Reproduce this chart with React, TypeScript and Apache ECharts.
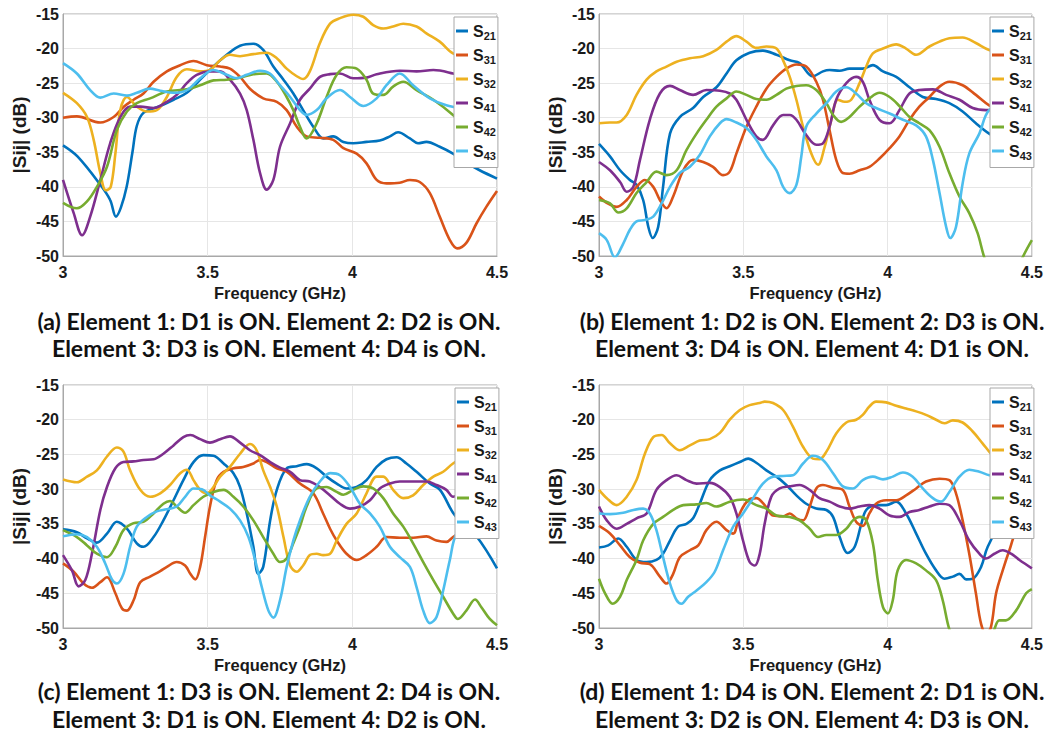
import React, { useEffect, useRef } from "react";
import * as echarts from "echarts";

// ---------- data: [frequency GHz, |Sij| dB] ----------
const a21 = [[3.0,-34.0],[3.05,-35.6],[3.129,-39.7],[3.163,-41.9],[3.183,-44.3],[3.2,-43],[3.22,-40],[3.24,-35],[3.255,-31.2],[3.278,-29.3],[3.336,-28.3],[3.382,-27.4],[3.428,-26.4],[3.474,-24.5],[3.52,-22.6],[3.566,-20.9],[3.612,-19.6],[3.658,-19.3],[3.692,-20.2],[3.727,-22.6],[3.762,-24.5],[3.796,-26.5],[3.83,-28.9],[3.865,-31.3],[3.9,-33.0],[3.934,-32.7],[3.969,-33.5],[4.003,-33.7],[4.049,-33.5],[4.095,-33.3],[4.13,-32.7],[4.158,-32.1],[4.199,-33.0],[4.227,-33.7],[4.256,-33.5],[4.302,-34.2],[4.348,-35.2],[4.394,-36.5],[4.44,-37.6],[4.5,-38.8]];
const a31 = [[3.0,-30.0],[3.048,-29.8],[3.129,-30.7],[3.175,-29.9],[3.21,-28.4],[3.244,-27.4],[3.278,-26.5],[3.313,-24.8],[3.359,-23.3],[3.405,-22.4],[3.451,-21.8],[3.497,-22.4],[3.543,-22.6],[3.577,-22.9],[3.612,-24.1],[3.646,-25.8],[3.692,-27.2],[3.739,-27.7],[3.773,-28.9],[3.808,-31.3],[3.842,-32.7],[3.888,-32.9],[3.934,-33.2],[3.969,-34.4],[4.015,-35.2],[4.049,-36.6],[4.084,-39.0],[4.118,-39.5],[4.164,-39.4],[4.199,-39.0],[4.233,-39.3],[4.268,-40.9],[4.302,-44.3],[4.337,-47.7],[4.362,-48.9],[4.394,-48.1],[4.429,-45.3],[4.463,-42.9],[4.5,-40.6]];
const a32 = [[3.0,-26.4],[3.048,-27.9],[3.083,-29.9],[3.106,-33.2],[3.129,-38.0],[3.148,-40.5],[3.165,-40.0],[3.181,-35.2],[3.198,-28.9],[3.221,-27.0],[3.255,-28.4],[3.29,-29.1],[3.324,-28.9],[3.359,-27.0],[3.393,-24.1],[3.428,-23.0],[3.474,-23.3],[3.508,-23.1],[3.543,-21.7],[3.577,-20.9],[3.612,-21.1],[3.658,-20.8],[3.704,-20.6],[3.739,-21.4],[3.773,-22.9],[3.808,-24.0],[3.83,-24.4],[3.853,-23.3],[3.888,-19.2],[3.923,-16.4],[3.957,-15.6],[4.003,-15.1],[4.038,-15.4],[4.072,-16.6],[4.107,-17.1],[4.141,-16.8],[4.176,-16.4],[4.222,-16.8],[4.256,-17.8],[4.302,-19.0],[4.348,-20.7],[4.42,-21.7],[4.5,-22.4]];
const a41 = [[3.0,-39.0],[3.037,-43.8],[3.066,-47.0],[3.094,-44.3],[3.129,-39.0],[3.163,-33.7],[3.198,-29.9],[3.232,-28.4],[3.267,-28.4],[3.313,-28.6],[3.359,-27.7],[3.393,-26.7],[3.428,-25.0],[3.462,-23.8],[3.508,-23.3],[3.543,-23.3],[3.577,-24.5],[3.612,-26.5],[3.635,-28.9],[3.658,-33.2],[3.681,-38.0],[3.704,-40.4],[3.727,-39.0],[3.75,-34.2],[3.785,-30.8],[3.819,-27.4],[3.853,-25.8],[3.888,-24.1],[3.923,-23.7],[3.957,-23.6],[4.003,-24.3],[4.049,-24.2],[4.084,-23.7],[4.164,-23.2],[4.222,-23.3],[4.28,-23.1],[4.348,-23.6],[4.43,-24.5],[4.5,-25.7]];
const a42 = [[3.0,-42.3],[3.048,-43.1],[3.083,-42.1],[3.117,-40.0],[3.152,-37.1],[3.186,-31.8],[3.221,-29.1],[3.255,-27.9],[3.301,-27.2],[3.359,-26.2],[3.428,-25.9],[3.474,-25.3],[3.52,-24.6],[3.566,-24.5],[3.612,-24.2],[3.658,-23.7],[3.704,-23.6],[3.739,-24.8],[3.773,-27.0],[3.796,-28.9],[3.819,-31.3],[3.842,-33.0],[3.877,-30.8],[3.911,-27.0],[3.946,-23.8],[3.98,-22.7],[4.015,-22.9],[4.049,-24.5],[4.072,-26.5],[4.107,-26.7],[4.141,-25.5],[4.176,-24.8],[4.222,-26.0],[4.28,-27.4],[4.348,-29.6],[4.42,-32.5],[4.5,-35.9]];
const a43 = [[3.0,-22.1],[3.048,-23.6],[3.094,-26.0],[3.129,-27.1],[3.175,-26.5],[3.221,-26.8],[3.255,-26.4],[3.301,-25.8],[3.336,-26.1],[3.382,-26.4],[3.428,-26.0],[3.474,-24.3],[3.52,-23.1],[3.566,-23.8],[3.6,-24.3],[3.635,-23.8],[3.681,-23.2],[3.715,-23.6],[3.75,-25.3],[3.785,-27.0],[3.819,-28.9],[3.842,-29.6],[3.877,-28.9],[3.911,-27.2],[3.957,-26.0],[3.992,-27.0],[4.038,-28.3],[4.084,-27.2],[4.118,-25.3],[4.164,-23.6],[4.21,-25.3],[4.268,-27.2],[4.325,-28.2],[4.42,-29.0],[4.5,-30.1]];

const b21 = [[3.0,-33.8],[3.038,-35.6],[3.073,-37.6],[3.107,-39.0],[3.13,-39.7],[3.153,-41.9],[3.171,-45.8],[3.186,-47.4],[3.205,-45.8],[3.222,-40.0],[3.246,-32.3],[3.28,-29.9],[3.326,-28.6],[3.361,-27.0],[3.407,-25.6],[3.442,-23.6],[3.476,-21.7],[3.522,-20.6],[3.568,-20.3],[3.615,-20.9],[3.661,-21.7],[3.695,-22.1],[3.741,-24.0],[3.776,-23.3],[3.799,-23.1],[3.834,-23.2],[3.868,-22.9],[3.914,-22.9],[3.949,-22.4],[3.984,-23.3],[4.03,-24.1],[4.076,-25.6],[4.122,-27.0],[4.168,-27.3],[4.214,-27.9],[4.26,-29.1],[4.306,-30.8],[4.352,-32.3],[4.43,-34.3],[4.5,-35.6]];
const b31 = [[3.0,-41.4],[3.03,-42.4],[3.061,-42.9],[3.096,-41.9],[3.13,-40.0],[3.159,-39.0],[3.188,-40.0],[3.211,-41.9],[3.234,-43.1],[3.257,-41.4],[3.292,-37.6],[3.326,-36.1],[3.361,-36.4],[3.395,-37.1],[3.43,-38.3],[3.453,-37.8],[3.476,-35.2],[3.511,-31.3],[3.545,-28.4],[3.58,-25.8],[3.615,-24.1],[3.649,-22.9],[3.684,-22.3],[3.718,-22.6],[3.753,-24.8],[3.776,-27.4],[3.799,-31.8],[3.822,-36.1],[3.845,-38.0],[3.868,-38.1],[3.903,-37.6],[3.937,-37.1],[3.972,-35.9],[4.007,-34.4],[4.041,-32.7],[4.076,-30.3],[4.11,-28.4],[4.145,-27.0],[4.18,-25.5],[4.214,-24.8],[4.26,-25.3],[4.306,-26.7],[4.352,-28.2],[4.43,-29.8],[4.5,-30.8]];
const b32 = [[3.0,-30.8],[3.038,-30.7],[3.061,-30.7],[3.096,-29.6],[3.13,-26.7],[3.165,-24.5],[3.199,-23.3],[3.234,-22.6],[3.269,-21.9],[3.315,-21.4],[3.361,-21.1],[3.407,-20.2],[3.442,-19.0],[3.476,-18.2],[3.511,-19.0],[3.545,-19.9],[3.58,-19.7],[3.615,-20.0],[3.638,-21.7],[3.661,-24.1],[3.684,-27.4],[3.707,-31.3],[3.736,-35.2],[3.759,-36.8],[3.782,-34.2],[3.805,-30.3],[3.828,-27.4],[3.851,-27.7],[3.874,-27.4],[3.903,-25.0],[3.926,-22.6],[3.949,-20.7],[3.984,-20.0],[4.03,-19.4],[4.064,-20.0],[4.099,-20.9],[4.145,-19.7],[4.18,-19.0],[4.214,-18.5],[4.26,-18.4],[4.306,-19.2],[4.352,-20.2],[4.43,-21.0],[4.5,-21.5]];
const b41 = [[3.0,-36.4],[3.038,-37.6],[3.073,-39.3],[3.096,-40.7],[3.119,-40.0],[3.142,-36.1],[3.176,-30.3],[3.211,-26.5],[3.246,-25.4],[3.28,-26.0],[3.326,-26.7],[3.372,-26.0],[3.419,-26.1],[3.453,-26.5],[3.476,-27.4],[3.511,-30.3],[3.545,-32.7],[3.568,-33.2],[3.603,-31.1],[3.638,-29.6],[3.661,-29.6],[3.684,-30.3],[3.718,-32.5],[3.753,-33.9],[3.776,-33.7],[3.799,-31.3],[3.822,-27.4],[3.857,-25.0],[3.891,-24.1],[3.914,-24.8],[3.937,-27.4],[3.972,-30.3],[4.007,-30.8],[4.041,-28.9],[4.076,-26.5],[4.11,-26.0],[4.157,-25.9],[4.203,-26.7],[4.249,-27.4],[4.295,-28.6],[4.341,-28.9],[4.42,-28.6],[4.5,-28.5]];
const b42 = [[3.0,-41.9],[3.038,-42.4],[3.067,-43.7],[3.096,-43.1],[3.13,-40.9],[3.165,-39.3],[3.199,-37.8],[3.234,-38.3],[3.269,-37.6],[3.303,-34.7],[3.338,-32.3],[3.372,-30.3],[3.407,-28.4],[3.442,-27.2],[3.476,-26.2],[3.511,-26.7],[3.545,-27.3],[3.58,-27.4],[3.615,-26.7],[3.649,-25.8],[3.684,-25.4],[3.718,-25.3],[3.753,-26.0],[3.788,-27.9],[3.811,-29.6],[3.839,-30.6],[3.868,-29.9],[3.903,-28.4],[3.937,-27.2],[3.972,-26.4],[4.007,-27.0],[4.041,-28.3],[4.076,-29.9],[4.11,-30.8],[4.145,-31.8],[4.18,-34.2],[4.214,-38.0],[4.249,-41.4],[4.283,-43.8],[4.312,-46.7],[4.335,-50.2],[4.37,-54],[4.42,-55],[4.468,-50.2],[4.5,-47.7]];
const b43 = [[3.0,-46.7],[3.027,-47.7],[3.055,-50.2],[3.084,-48.2],[3.107,-46.2],[3.13,-45.0],[3.159,-44.8],[3.188,-44.3],[3.217,-42.4],[3.246,-40.0],[3.28,-38.0],[3.315,-37.1],[3.349,-35.4],[3.384,-32.7],[3.419,-30.8],[3.442,-30.2],[3.476,-30.7],[3.511,-31.5],[3.545,-33.2],[3.58,-35.6],[3.615,-37.6],[3.638,-40.0],[3.661,-40.9],[3.684,-39.7],[3.701,-35.6],[3.718,-31.3],[3.753,-29.4],[3.788,-27.9],[3.822,-26.2],[3.857,-25.6],[3.891,-26.5],[3.926,-27.9],[3.96,-28.6],[4.007,-29.4],[4.053,-30.3],[4.099,-31.1],[4.133,-32.7],[4.157,-36.1],[4.18,-40.9],[4.203,-45.8],[4.217,-47.4],[4.237,-45.8],[4.26,-39.5],[4.283,-35.2],[4.318,-32.3],[4.352,-28.9],[4.43,-27.5],[4.5,-27.0]];

const c21 = [[3.0,-35.8],[3.048,-36.2],[3.083,-37.1],[3.117,-37.7],[3.152,-36.4],[3.186,-34.7],[3.221,-35.7],[3.255,-37.8],[3.278,-38.3],[3.313,-36.9],[3.347,-34.5],[3.382,-31.6],[3.416,-28.7],[3.451,-26.1],[3.485,-25.1],[3.52,-25.2],[3.555,-26.3],[3.589,-27.7],[3.612,-29.7],[3.635,-33.5],[3.658,-38.3],[3.675,-42.2],[3.692,-41.2],[3.716,-34.5],[3.739,-30.1],[3.773,-27.0],[3.808,-26.7],[3.842,-26.4],[3.877,-27.0],[3.911,-28.2],[3.946,-29.2],[3.98,-29.9],[4.015,-29.7],[4.049,-28.7],[4.084,-26.8],[4.118,-25.7],[4.153,-25.4],[4.187,-26.3],[4.222,-27.5],[4.268,-29.2],[4.303,-30.1],[4.348,-33.4],[4.39,-35.5],[4.431,-36.9],[4.5,-41.4]];
const c31 = [[3.0,-40.7],[3.037,-41.9],[3.071,-43.6],[3.1,-44.2],[3.129,-43.4],[3.152,-42.7],[3.181,-45.0],[3.204,-47.2],[3.221,-47.5],[3.244,-46.0],[3.267,-43.4],[3.301,-42.6],[3.336,-41.8],[3.359,-41.2],[3.393,-40.5],[3.422,-41.0],[3.44,-42.2],[3.457,-43.0],[3.474,-41.2],[3.491,-36.9],[3.508,-32.5],[3.531,-28.7],[3.555,-27.5],[3.589,-27.0],[3.623,-26.8],[3.658,-26.3],[3.681,-25.8],[3.704,-26.1],[3.739,-27.0],[3.773,-27.5],[3.819,-29.2],[3.865,-30.6],[3.899,-33.5],[3.923,-35.7],[3.946,-37.4],[3.98,-39.3],[4.015,-40.2],[4.049,-39.5],[4.084,-38.3],[4.118,-36.9],[4.164,-37.0],[4.21,-37.0],[4.256,-36.8],[4.291,-37.4],[4.325,-37.6],[4.348,-36.9],[4.42,-35.0],[4.5,-33.4]];
const c32 = [[3.0,-28.6],[3.048,-29.0],[3.083,-28.2],[3.117,-27.3],[3.152,-25.3],[3.186,-24.0],[3.209,-24.6],[3.232,-27.3],[3.267,-30.1],[3.301,-31.1],[3.336,-30.6],[3.37,-29.4],[3.405,-27.7],[3.428,-27.2],[3.451,-28.7],[3.474,-30.1],[3.497,-30.6],[3.52,-29.7],[3.543,-28.2],[3.577,-26.8],[3.612,-24.9],[3.646,-23.5],[3.669,-24.4],[3.692,-27.3],[3.716,-29.7],[3.739,-32.5],[3.762,-36.9],[3.785,-41.0],[3.808,-41.9],[3.83,-41.0],[3.853,-39.5],[3.877,-39.3],[3.899,-39.5],[3.923,-39.3],[3.946,-37.4],[3.98,-35.0],[4.015,-33.5],[4.049,-30.6],[4.084,-28.2],[4.107,-28.2],[4.141,-30.1],[4.176,-31.3],[4.21,-30.9],[4.245,-29.4],[4.28,-28.2],[4.314,-27.5],[4.348,-26.3],[4.42,-24.5],[4.5,-23.2]];
const c41 = [[3.0,-39.5],[3.031,-41.7],[3.054,-44.0],[3.077,-43.1],[3.1,-39.3],[3.129,-33.0],[3.152,-29.7],[3.181,-27.0],[3.209,-26.1],[3.244,-26.0],[3.278,-25.8],[3.313,-25.7],[3.347,-24.9],[3.382,-23.7],[3.416,-22.5],[3.44,-22.2],[3.474,-22.8],[3.508,-23.3],[3.543,-22.8],[3.577,-22.4],[3.612,-23.3],[3.646,-24.4],[3.681,-25.1],[3.716,-26.1],[3.75,-26.9],[3.785,-27.5],[3.819,-28.7],[3.853,-28.9],[3.888,-29.7],[3.923,-30.9],[3.957,-32.1],[3.992,-32.8],[4.026,-32.5],[4.061,-31.6],[4.095,-29.9],[4.13,-29.2],[4.164,-28.9],[4.21,-28.9],[4.256,-28.9],[4.291,-29.4],[4.325,-30.1],[4.348,-31.1],[4.4,-29.5],[4.45,-27.0],[4.5,-25.7]];
const c42 = [[3.0,-35.9],[3.048,-36.9],[3.083,-38.1],[3.117,-39.3],[3.152,-39.8],[3.181,-38.3],[3.209,-35.9],[3.244,-34.9],[3.278,-34.7],[3.313,-33.5],[3.347,-32.1],[3.37,-31.7],[3.393,-32.5],[3.422,-33.4],[3.451,-32.3],[3.485,-31.1],[3.52,-30.4],[3.555,-30.1],[3.589,-31.1],[3.623,-32.5],[3.658,-34.5],[3.692,-36.9],[3.727,-39.3],[3.75,-40.5],[3.773,-40.0],[3.796,-37.8],[3.819,-35.4],[3.842,-32.5],[3.877,-29.9],[3.911,-29.7],[3.946,-30.4],[3.969,-30.8],[4.003,-30.1],[4.038,-29.6],[4.072,-29.9],[4.107,-31.3],[4.141,-33.5],[4.176,-35.4],[4.21,-37.8],[4.245,-40.5],[4.28,-43.1],[4.314,-45.5],[4.348,-47.9],[4.365,-48.7],[4.394,-47.5],[4.424,-45.9],[4.446,-47.0],[4.475,-48.7],[4.5,-49.6]];
const c43 = [[3.0,-36.8],[3.048,-36.5],[3.083,-36.9],[3.117,-38.3],[3.146,-40.7],[3.169,-43.0],[3.186,-43.6],[3.209,-42.2],[3.232,-38.3],[3.255,-35.4],[3.29,-34.0],[3.324,-33.2],[3.359,-32.9],[3.393,-32.5],[3.422,-31.1],[3.451,-29.9],[3.48,-30.0],[3.508,-30.9],[3.543,-31.8],[3.577,-32.8],[3.612,-34.5],[3.641,-36.9],[3.664,-40.2],[3.687,-44.1],[3.71,-47.5],[3.727,-48.5],[3.75,-46.0],[3.773,-41.2],[3.796,-37.4],[3.819,-34.5],[3.853,-31.1],[3.888,-28.9],[3.923,-27.7],[3.957,-28.0],[3.992,-29.7],[4.026,-32.1],[4.061,-33.5],[4.095,-35.4],[4.13,-38.3],[4.164,-39.8],[4.199,-41.2],[4.222,-44.1],[4.245,-47.5],[4.268,-49.3],[4.291,-48.4],[4.314,-44.6],[4.337,-40.2],[4.36,-36.4],[4.43,-33.0],[4.5,-31.3]];

const d21 = [[3.0,-38.4],[3.032,-38.1],[3.067,-37.1],[3.096,-38.3],[3.13,-40.2],[3.165,-40.5],[3.199,-40.2],[3.222,-39.3],[3.246,-37.4],[3.274,-35.4],[3.303,-35.0],[3.326,-34.2],[3.349,-32.1],[3.384,-28.7],[3.419,-27.3],[3.453,-26.7],[3.488,-26.1],[3.517,-25.6],[3.545,-26.2],[3.58,-27.3],[3.615,-28.2],[3.649,-29.4],[3.684,-30.9],[3.718,-32.1],[3.753,-32.8],[3.788,-33.0],[3.811,-34.0],[3.834,-36.9],[3.862,-39.2],[3.886,-38.3],[3.909,-35.0],[3.926,-33.0],[3.96,-32.3],[3.995,-32.3],[4.03,-31.8],[4.064,-33.5],[4.099,-36.4],[4.133,-39.3],[4.168,-41.7],[4.197,-42.9],[4.226,-42.6],[4.249,-42.2],[4.272,-43.0],[4.295,-42.9],[4.324,-41.2],[4.347,-38.3],[4.42,-33.0],[4.5,-31.1]];
const d31 = [[3.0,-35.3],[3.038,-36.4],[3.073,-38.1],[3.107,-39.8],[3.142,-40.6],[3.176,-40.8],[3.211,-42.6],[3.234,-43.6],[3.257,-42.2],[3.28,-39.8],[3.315,-38.8],[3.344,-38.1],[3.372,-35.9],[3.407,-34.7],[3.442,-35.9],[3.465,-36.4],[3.488,-33.5],[3.517,-31.6],[3.545,-31.3],[3.574,-32.3],[3.603,-33.8],[3.638,-33.9],[3.661,-33.5],[3.684,-34.2],[3.707,-34.5],[3.73,-32.5],[3.753,-29.9],[3.776,-29.4],[3.811,-29.8],[3.845,-30.1],[3.868,-32.5],[3.891,-34.7],[3.914,-35.3],[3.937,-33.5],[3.96,-32.1],[3.995,-31.6],[4.03,-31.6],[4.064,-30.9],[4.099,-29.9],[4.133,-28.9],[4.18,-28.5],[4.214,-28.7],[4.237,-30.6],[4.26,-34.5],[4.283,-39.3],[4.306,-45.0],[4.324,-49.4],[4.341,-50.8],[4.358,-49.9],[4.376,-45.0],[4.399,-41.7],[4.422,-38.8],[4.445,-36.2],[4.47,-35.5],[4.5,-35.4]];
const d32 = [[3.0,-30.1],[3.027,-31.3],[3.061,-32.3],[3.096,-31.1],[3.13,-28.7],[3.159,-24.9],[3.188,-22.5],[3.217,-22.2],[3.246,-23.4],[3.28,-24.4],[3.315,-23.7],[3.349,-23.0],[3.384,-22.8],[3.419,-21.9],[3.453,-20.0],[3.488,-18.6],[3.522,-17.9],[3.557,-17.6],[3.574,-17.4],[3.603,-17.6],[3.638,-18.6],[3.672,-21.0],[3.707,-23.9],[3.741,-25.6],[3.764,-25.7],[3.788,-24.6],[3.822,-22.0],[3.857,-20.4],[3.891,-20.0],[3.914,-19.3],[3.937,-18.1],[3.96,-17.4],[3.995,-17.5],[4.03,-18.0],[4.064,-18.4],[4.099,-18.8],[4.133,-19.3],[4.168,-20.0],[4.197,-20.5],[4.226,-20.1],[4.26,-20.4],[4.295,-21.7],[4.329,-23.4],[4.358,-24.9],[4.43,-28.0],[4.5,-30.4]];
const d41 = [[3.0,-32.5],[3.027,-34.5],[3.061,-35.7],[3.096,-35.0],[3.13,-34.2],[3.165,-33.5],[3.199,-30.1],[3.234,-28.7],[3.269,-28.0],[3.303,-28.7],[3.338,-29.2],[3.384,-29.1],[3.419,-29.7],[3.453,-31.1],[3.476,-33.5],[3.499,-37.4],[3.522,-40.5],[3.54,-41.0],[3.557,-39.3],[3.574,-35.0],[3.597,-31.1],[3.626,-29.9],[3.661,-29.6],[3.695,-29.4],[3.73,-30.1],[3.764,-31.3],[3.799,-31.8],[3.834,-32.5],[3.868,-32.8],[3.903,-32.5],[3.937,-32.3],[3.972,-32.8],[4.007,-33.8],[4.041,-34.0],[4.076,-33.3],[4.11,-33.0],[4.145,-32.5],[4.18,-32.1],[4.214,-32.3],[4.249,-34.5],[4.283,-37.4],[4.318,-39.3],[4.341,-40.0],[4.37,-39.3],[4.399,-38.8],[4.428,-39.3],[4.457,-40.2],[4.5,-41.4]];
const d42 = [[3.0,-42.9],[3.021,-45.0],[3.047,-46.5],[3.073,-45.5],[3.096,-43.1],[3.13,-40.2],[3.153,-37.4],[3.188,-35.0],[3.222,-34.0],[3.257,-33.0],[3.292,-32.3],[3.338,-32.2],[3.372,-32.0],[3.407,-32.5],[3.453,-31.8],[3.499,-31.5],[3.545,-32.3],[3.58,-32.8],[3.615,-33.8],[3.661,-34.0],[3.695,-34.5],[3.73,-35.7],[3.759,-36.9],[3.788,-36.6],[3.822,-36.6],[3.857,-35.7],[3.88,-34.5],[3.903,-34.0],[3.926,-34.5],[3.949,-37.8],[3.966,-43.1],[3.984,-47.0],[4.001,-47.9],[4.018,-46.0],[4.035,-41.7],[4.064,-40.2],[4.099,-40.7],[4.133,-41.7],[4.168,-43.1],[4.191,-46.0],[4.214,-50.2],[4.25,-54],[4.3,-56],[4.35,-53],[4.37,-50.2],[4.387,-48.9],[4.41,-48.9],[4.445,-47.5],[4.48,-45.0],[4.5,-44.4]];
const d43 = [[3.0,-33.5],[3.038,-33.6],[3.084,-33.4],[3.119,-33.0],[3.153,-32.8],[3.176,-33.5],[3.199,-35.9],[3.222,-39.8],[3.246,-43.6],[3.269,-46.0],[3.286,-46.5],[3.309,-45.5],[3.338,-44.6],[3.372,-43.4],[3.401,-41.9],[3.43,-38.8],[3.465,-35.4],[3.499,-33.5],[3.534,-31.3],[3.568,-29.2],[3.603,-28.2],[3.638,-28.1],[3.672,-28.0],[3.707,-26.3],[3.741,-25.2],[3.776,-25.8],[3.811,-27.7],[3.845,-29.6],[3.88,-29.9],[3.914,-28.7],[3.949,-28.2],[3.984,-28.6],[4.018,-28.2],[4.053,-27.6],[4.087,-28.2],[4.122,-29.9],[4.157,-31.3],[4.185,-31.8],[4.214,-30.4],[4.249,-28.2],[4.283,-27.2],[4.318,-27.5],[4.353,-28.0],[4.43,-28.5],[4.5,-29.0]];

const seriesNames = ["S21", "S31", "S32", "S41", "S42", "S43"];
const xTicks = ["3", "3.5", "4", "4.5"];
const captions = [
  ["(a) Element 1: D1 is ON. Element 2: D2 is ON.", "Element 3: D3 is ON. Element 4: D4 is ON."],
  ["(b) Element 1: D2 is ON. Element 2: D3 is ON.", "Element 3: D4 is ON. Element 4: D1 is ON."],
  ["(c) Element 1: D3 is ON. Element 2: D4 is ON.", "Element 3: D1 is ON. Element 4: D2 is ON."],
  ["(d) Element 1: D4 is ON. Element 2: D1 is ON.", "Element 3: D2 is ON. Element 4: D3 is ON."],
];
const panels = [
  [a21, a31, a32, a41, a42, a43],
  [b21, b31, b32, b41, b42, b43],
  [c21, c31, c32, c41, c42, c43],
  [d21, d31, d32, d41, d42, d43],
];

// ---------- layout & style ----------
const COLORS = ["#0072BD", "#D95319", "#EDB120", "#7E2F8E", "#77AC30", "#4DBEEE"];
const GRIDS = [
  { left: 63, top: 14, width: 434, height: 242 },
  { left: 599, top: 14, width: 434, height: 242 },
  { left: 63, top: 385, width: 434, height: 243 },
  { left: 599, top: 385, width: 434, height: 243 },
];
const LEGEND_POS = [
  { left: 454, top: 17 },
  { left: 990, top: 17 },
  { left: 455, top: 388 },
  { left: 990, top: 388 },
];
const CAPTION_POS = [
  { x: 269, y1: 321, y2: 348 },
  { x: 812, y1: 321, y2: 348 },
  { x: 269, y1: 691, y2: 719 },
  { x: 812, y1: 691, y2: 719 },
];
const AX_FONT = "Liberation Sans";

export default function App() {
  const ref = useRef<HTMLDivElement>(null);
  useEffect(() => {
    if (!ref.current) return;
    const chart = echarts.init(ref.current, undefined, { renderer: "svg" });

    const xAxis = GRIDS.map((_, i) => ({
      type: "value",
      gridIndex: i,
      min: 3,
      max: 4.5,
      interval: 0.5,
      name: "Frequency (GHz)",
      nameLocation: "middle",
      nameGap: 28,
      nameTextStyle: { fontFamily: AX_FONT, fontWeight: "bold", fontSize: 16.5, color: "#1a1a1a" },
      axisLine: { show: true, lineStyle: { color: "#a8a8a8", width: 1 } },
      axisTick: { show: false },
      axisLabel: {
        fontFamily: AX_FONT,
        fontWeight: "bold",
        fontSize: 16,
        color: "#1a1a1a",
        margin: 8,
        formatter: (v: number) => xTicks.find((t) => Math.abs(parseFloat(t) - v) < 1e-6) ?? String(v),
      },
      splitLine: { show: true, lineStyle: { color: "#e6e6e6", width: 1 } },
    }));
    const yAxis = GRIDS.map((_, i) => ({
      type: "value",
      gridIndex: i,
      min: -50,
      max: -15,
      interval: 5,
      name: "|Sij| (dB)",
      nameLocation: "middle",
      nameGap: 34,
      nameTextStyle: { fontFamily: AX_FONT, fontWeight: "bold", fontSize: 19, color: "#1a1a1a" },
      axisLine: { show: true, lineStyle: { color: "#a8a8a8", width: 1 } },
      axisTick: { show: false },
      axisLabel: { fontFamily: AX_FONT, fontWeight: "bold", fontSize: 16, color: "#1a1a1a", margin: 4 },
      splitLine: { show: true, lineStyle: { color: "#e6e6e6", width: 1 } },
    }));

    const series: any[] = [];
    panels.forEach((arrs, p) => {
      arrs.forEach((data, k) => {
        series.push({
          type: "line",
          name: seriesNames[k],
          xAxisIndex: p,
          yAxisIndex: p,
          data,
          smooth: 0.35,
          symbol: "none",
          clip: true,
          lineStyle: { width: 2.6, color: COLORS[k] },
          itemStyle: { color: COLORS[k] },
          emphasis: { disabled: true },
        });
      });
    });

    const legend = LEGEND_POS.map((pos) => ({
      ...pos,
      orient: "vertical",
      data: seriesNames.map((n, k) => ({ name: n, itemStyle: { color: COLORS[k] } })),
      icon: "rect",
      itemWidth: 12,
      itemHeight: 3,
      itemGap: 5.5,
      padding: [6, 2, 6, 2],
      backgroundColor: "#ffffff",
      borderColor: "#a8a8a8",
      borderWidth: 1,
      borderRadius: 0,
      selectedMode: false,
      formatter: (name: string) => `{s|S}{sub|${name.slice(1)}}`,
      textStyle: {
        rich: {
          s: { fontFamily: AX_FONT, fontWeight: "bold", fontSize: 16, color: "#1a1a1a", verticalAlign: "middle" },
          sub: {
            fontFamily: AX_FONT,
            fontWeight: "bold",
            fontSize: 11,
            color: "#1a1a1a",
            padding: [10, 0, 0, 0],
            verticalAlign: "middle",
          },
        },
      },
    }));

    const graphic: any[] = [];
    captions.forEach((lines, i) => {
      const pos = CAPTION_POS[i];
      [pos.y1, pos.y2].forEach((y, j) => {
        graphic.push({
          type: "text",
          x: pos.x,
          y,
          silent: true,
          style: {
            text: lines[j],
            fontFamily: "Lato",
            fontWeight: "bold",
            fontSize: 23,
            fill: "#111",
            align: "center",
            verticalAlign: "middle",
          },
        });
      });
    });

    chart.setOption({
      animation: false,
      backgroundColor: "#ffffff",
      grid: GRIDS.map((g) => ({ ...g, show: true, borderColor: "#a8a8a8", borderWidth: 1, backgroundColor: "transparent", containLabel: false })),
      xAxis,
      yAxis,
      legend,
      series,
      graphic,
    });
    return () => chart.dispose();
  }, []);

  return (
    <div
      ref={ref}
      style={{ position: "fixed", left: 0, top: 0, width: 1046, height: 734, background: "#fff" }}
    />
  );
}
